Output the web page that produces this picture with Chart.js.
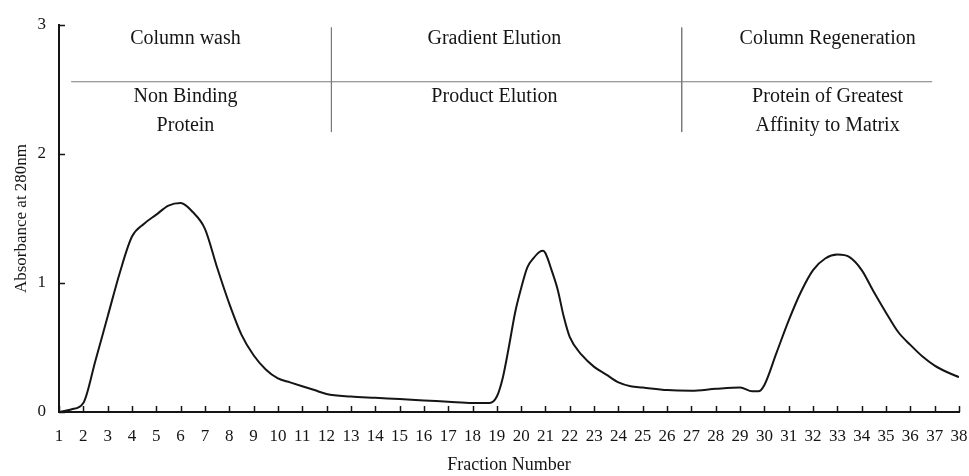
<!DOCTYPE html>
<html>
<head>
<meta charset="utf-8">
<script src="https://cdn.jsdelivr.net/npm/chart.js@4"></script>
<style>
  html, body { margin: 0; padding: 0; background: #fff; }
  #wrap { width: 969px; height: 476px; }
</style>
</head>
<body>
<div id="wrap"><canvas id="elution"></canvas></div>
<script>
// Absorbance profile across the collected fractions
const fractions = [1, 1.5, 2, 2.5, 3, 3.5, 4, 4.5, 5, 5.5, 6, 6.5, 7, 7.5, 8, 8.5, 9, 9.5, 10, 10.5, 11, 11.5, 12, 13, 14, 15, 16, 17, 18, 18.7,
    19, 19.25, 19.5, 19.75, 20, 20.25, 20.5, 20.75, 20.9, 21, 21.25, 21.5, 21.75, 22, 22.5, 23, 23.5, 24, 24.5, 25, 26,
    27, 28, 29, 29.5, 29.75, 30, 30.5, 31, 31.5, 32, 32.5, 33, 33.5, 34, 34.5, 35, 35.5, 36, 36.5, 37, 37.5, 38];
const absorbance = [0, 0.02, 0.07, 0.40, 0.74, 1.08, 1.36, 1.46, 1.53, 1.60, 1.62, 1.55, 1.42, 1.12, 0.84, 0.60, 0.44, 0.33, 0.26, 0.23, 0.20, 0.17, 0.14, 0.12, 0.11, 0.10, 0.09, 0.08, 0.07, 0.07,
    0.12, 0.27, 0.51, 0.77, 0.96, 1.12, 1.19, 1.24, 1.25, 1.23, 1.10, 0.95, 0.74, 0.58, 0.44, 0.35, 0.29, 0.23, 0.20, 0.19, 0.17,
    0.165, 0.18, 0.19, 0.16, 0.16, 0.21, 0.46, 0.71, 0.93, 1.10, 1.19, 1.22, 1.20, 1.10, 0.93, 0.77, 0.62, 0.52, 0.43, 0.36, 0.31, 0.27];

// Phase boundaries and the rule separating phase names from what elutes
const phaseBounds = [12.2, 26.6];
const boundTop = 2.98;
const boundBottom = 2.17;
const ruleLevel = 2.56;
const ruleFrom = 1.5;
const ruleTo = 36.9;

// Phase headings (above the rule) and contents (below it)
const phaseCentres = [6.2, 18.9, 32.6];
const phaseNames = ['Column wash', 'Gradient Elution', 'Column Regeneration'];
const phaseContents = [['Non Binding', 'Protein'], ['Product Elution'], ['Protein of Greatest', 'Affinity to Matrix']];

const xTitle = 'Fraction Number';
const yTitle = 'Absorbance at 280nm';

const serif = '"Liberation Serif", "Times New Roman", serif';
const ink = '#151515';
const rule = '#7a7a7a';

const curve = fractions.map((f, i) => ({ x: f, y: absorbance[i] }));

const dividerSets = phaseBounds.map(b => ({
    data: [{ x: b, y: boundTop }, { x: b, y: boundBottom }],
    borderColor: rule, borderWidth: 1, pointRadius: 0, tension: 0
}));

// Phase labels and inward tick marks
const annotations = {
    id: 'annotations',
    afterDraw(chart) {
        const ctx = chart.ctx;
        const xs = chart.scales.x;
        const ys = chart.scales.y;
        const area = chart.chartArea;
        ctx.save();
        ctx.strokeStyle = ink;
        ctx.lineWidth = 1.5;
        ctx.beginPath();
        xs.ticks.forEach(t => {
            const px = Math.round(xs.getPixelForValue(t.value)) + 0.5;
            ctx.moveTo(px, area.bottom);
            ctx.lineTo(px, area.bottom - 6);
        });
        ys.ticks.forEach(t => {
            const py = Math.round(ys.getPixelForValue(t.value)) + 0.5;
            ctx.moveTo(area.left, py);
            ctx.lineTo(area.left + 6, py);
        });
        ctx.stroke();

        ctx.fillStyle = ink;
        ctx.font = '20px ' + serif;
        ctx.textAlign = 'center';
        ctx.textBaseline = 'middle';
        phaseCentres.forEach((c, i) => {
            const px = xs.getPixelForValue(c);
            ctx.fillText(phaseNames[i], px, ys.getPixelForValue(2.89));
            phaseContents[i].forEach((line, j) => {
                ctx.fillText(line, px, ys.getPixelForValue(2.44 - j * 0.22));
            });
        });
        ctx.restore();
    }
};

new Chart(document.getElementById('elution'), {
    type: 'line',
    data: {
        datasets: [
            {
                data: curve,
                borderColor: ink,
                borderWidth: 2,
                pointRadius: 0,
                cubicInterpolationMode: 'monotone',
                fill: false
            },
            {
                data: [{ x: ruleFrom, y: ruleLevel }, { x: ruleTo, y: ruleLevel }],
                borderColor: rule, borderWidth: 1, pointRadius: 0, tension: 0
            },
            ...dividerSets
        ]
    },
    options: {
        responsive: true,
        maintainAspectRatio: false,
        animation: false,
        layout: { padding: { left: 0, right: 10, top: 25, bottom: 0 } },
        plugins: {
            legend: { display: false },
            tooltip: { enabled: false }
        },
        scales: {
            x: {
                type: 'linear',
                min: 1,
                max: 38,
                afterFit(scale) {
                    scale.height = 64;
                    scale.paddingLeft = 0;
                    scale.paddingRight = 0;
                },
                ticks: {
                    stepSize: 1,
                    autoSkip: false,
                    maxRotation: 0,
                    padding: 14,
                    color: ink,
                    font: { family: serif, size: 17 }
                },
                grid: { display: true, drawOnChartArea: false, drawTicks: false },
                border: { display: true, color: ink, width: 2 },
                title: {
                    display: true,
                    text: xTitle,
                    color: ink,
                    font: { family: serif, size: 18 },
                    padding: { top: 5, bottom: 0 }
                }
            },
            y: {
                min: 0,
                max: 3,
                afterFit(scale) { scale.width = 59; },
                ticks: {
                    stepSize: 1,
                    padding: 13,
                    color: ink,
                    font: { family: serif, size: 17 }
                },
                grid: { display: true, drawOnChartArea: false, drawTicks: false },
                border: { display: true, color: ink, width: 2 },
                title: {
                    display: true,
                    text: yTitle,
                    color: ink,
                    font: { family: serif, size: 17 },
                    padding: { top: 11, bottom: 0 }
                }
            }
        }
    },
    plugins: [annotations]
});
</script>
</body>
</html>
